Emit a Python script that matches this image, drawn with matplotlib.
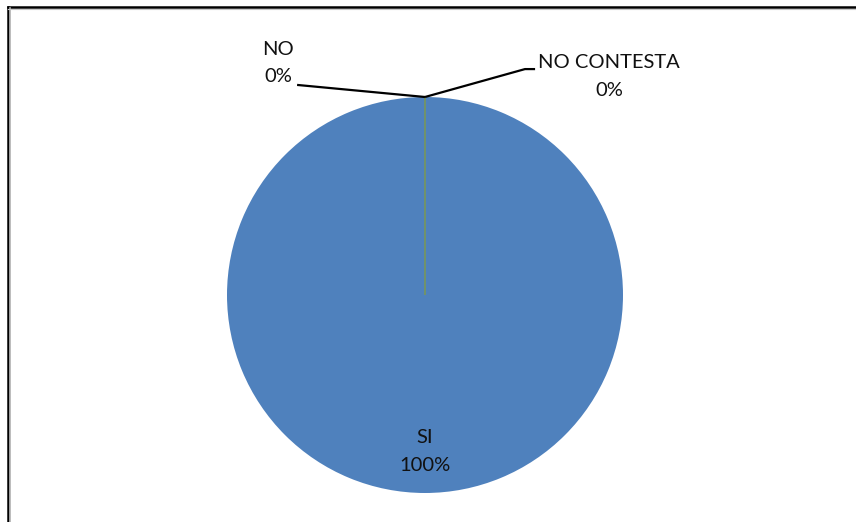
import matplotlib
matplotlib.use("Agg")
import matplotlib.pyplot as plt
from matplotlib.lines import Line2D

categories = ["SI", "NO", "NO CONTESTA"]
values = [100, 0, 0]
colors = ["#4F81BD", "#C0504D", "#9BBB59"]

W, H = 856, 522
fig = plt.figure(figsize=(W / 100, H / 100), dpi=100)
ax = fig.add_axes([0, 0, 1, 1])

# pie of radius 1 at the origin; limits chosen so one data unit is ~198 px
cx, cy, r = 425, 295, 198

wedges, _ = ax.pie(values, colors=colors, startangle=90, counterclock=False,
                   radius=1, center=(0, 0), frame=True,
                   wedgeprops=dict(linewidth=0))
ax.set_xlim(-cx / r, (W - cx) / r)
ax.set_ylim(-(H - cy) / r, cy / r)
ax.set_aspect("auto")
ax.axis("off")

# the empty slice still shows as a thin radius
wedges[2].set_edgecolor("#7F9A48")
wedges[2].set_linewidth(1.0)

total = sum(values)
pct = [f"{round(v / total * 100)}%" for v in values]

font = dict(family=["Lato", "DejaVu Sans"], fontsize=14.5, color="#111111",
            ha="center", va="center", linespacing=1.75)

# SI label inside the slice
ax.text(0, -0.79, f"{categories[0]}\n{pct[0]}", **font)

# leader lines for the zero slices
top = (0, 1)
ax.plot([top[0], -0.646], [top[1], 1.061], color="black", lw=1.6,
        solid_capstyle="butt")
ax.text(-0.742, 1.172, f"{categories[1]}\n{pct[1]}", **font)

ax.plot([top[0], 0.505, 0.556], [top[1], 1.141, 1.141], color="black",
        lw=1.6, solid_capstyle="butt")
ax.text(0.929, 1.104, f"{categories[2]}\n{pct[2]}", **font)

# chart border (left and top edges)
x0 = 7.8 / W
y0 = 1 - 6.8 / H
fig.add_artist(Line2D([x0, x0], [0, y0], transform=fig.transFigure,
                      color="black", lw=1.8))
fig.add_artist(Line2D([x0, 1], [y0, y0], transform=fig.transFigure,
                      color="black", lw=1.8))
fig.add_artist(Line2D([10.2 / W, 10.2 / W], [0, y0 - 1.5 / H],
                      transform=fig.transFigure, color="#b0b0b0", lw=1.2))
fig.add_artist(Line2D([x0, 1], [y0 - 2.3 / H, y0 - 2.3 / H],
                      transform=fig.transFigure, color="#c8c8c8", lw=0.8))

fig.savefig("out.png", dpi=100)
